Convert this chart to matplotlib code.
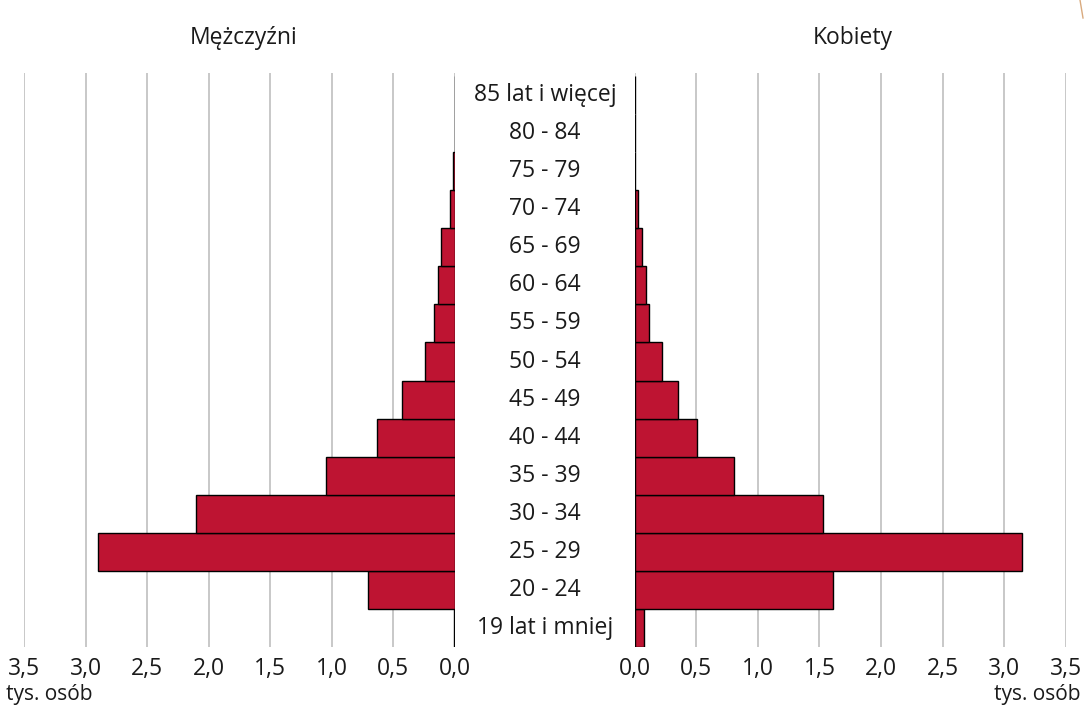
import matplotlib
matplotlib.use("Agg")
import matplotlib.pyplot as plt
import matplotlib.transforms as mtransforms
from matplotlib.lines import Line2D

plt.rcParams["font.family"] = ["Open Sans", "DejaVu Sans"]

# ----------------------------------------------------------------------
# Data (thousands of people), youngest group first
# ----------------------------------------------------------------------
age_groups = ["19 lat i mniej", "20 - 24", "25 - 29", "30 - 34", "35 - 39",
              "40 - 44", "45 - 49", "50 - 54", "55 - 59", "60 - 64",
              "65 - 69", "70 - 74", "75 - 79", "80 - 84", "85 lat i więcej"]
men = [0.005, 0.71, 2.90, 2.10, 1.05, 0.63, 0.43, 0.245, 0.17, 0.135,
       0.11, 0.04, 0.014, 0.003, 0.002]
women = [0.075, 1.61, 3.145, 1.53, 0.81, 0.51, 0.35, 0.22, 0.114, 0.094,
         0.062, 0.03, 0.006, 0.003, 0.002]
x_ticks = [0.0, 0.5, 1.0, 1.5, 2.0, 2.5, 3.0, 3.5]
x_tick_labels = ["0,0", "0,5", "1,0", "1,5", "2,0", "2,5", "3,0", "3,5"]

BAR = "#BE1432"
GRID = "#c4c4c4"
TXT = "#1a1a1a"
FS = 16.5

W, H = 1084, 707
fig = plt.figure(figsize=(W / 100, H / 100), dpi=100)

top_px, bot_px = 73, 647
ax_b = 1 - bot_px / H
ax_h = (bot_px - top_px) / H
ax_l = fig.add_axes([24 / W, ax_b, (455 - 24) / W, ax_h])
ax_r = fig.add_axes([634.5 / W, ax_b, (1066 - 634.5) / W, ax_h])

ypos = list(range(len(age_groups)))
for ax, vals in [(ax_l, men), (ax_r, women)]:
    ax.barh(ypos, vals, height=1.0, color=BAR, edgecolor="black",
            linewidth=1.0, zorder=3)
    ax.set_xlim(0, 3.5)
    ax.set_ylim(-0.5, 14.58)
    ax.set_xticks(x_ticks)
    ax.set_xticklabels(x_tick_labels, fontsize=FS, color=TXT)
    ax.set_yticks([])
    ax.tick_params(axis="x", length=0, pad=7)
    ax.grid(axis="x", color=GRID, linewidth=1.3, zorder=0)
    ax.set_axisbelow(True)
    for s in ax.spines.values():
        s.set_visible(False)
ax_l.invert_xaxis()

# age labels in the middle gap
trans = mtransforms.blended_transform_factory(fig.transFigure, ax_l.transData)
for y, lab in zip(ypos, age_groups):
    fig.text(545 / W, y, lab, transform=trans, ha="center", va="center",
             fontsize=FS, color=TXT)

# panel titles
fig.text(244 / W, 1 - 38 / H, "Mężczyźni", ha="center", va="center",
         fontsize=FS, color=TXT)
fig.text(853 / W, 1 - 38 / H, "Kobiety", ha="center", va="center",
         fontsize=FS, color=TXT)

# unit labels at the bottom corners
fig.text(6 / W, 2 / H, "tys. osób", ha="left", va="bottom",
         fontsize=15, color=TXT)
fig.text(1080 / W, 2 / H, "tys. osób", ha="right", va="bottom",
         fontsize=15, color=TXT)

# small decorative arc fragment in the top-right corner
fig.add_artist(Line2D([1080 / W, 1083 / W], [1.0, 1 - 18 / H],
                      transform=fig.transFigure, color="#d9aa7e", lw=1.0))

fig.savefig("out.png", dpi=100)
